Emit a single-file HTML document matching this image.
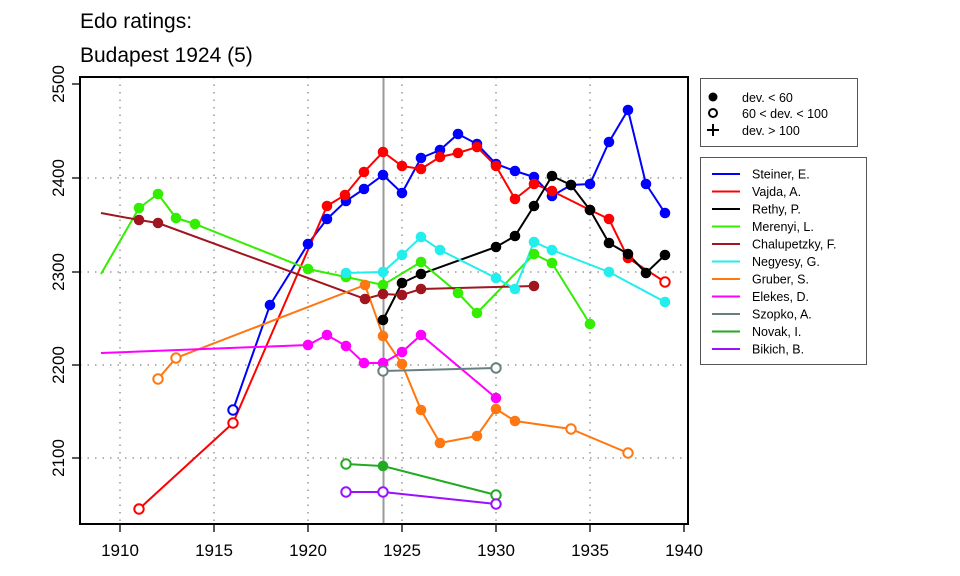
<!DOCTYPE html>
<html><head><meta charset="utf-8"><style>body{margin:0;background:#fff}svg{display:block}text{font-family:"Liberation Sans",sans-serif}</style></head>
<body>
<svg width="960" height="576" xmlns="http://www.w3.org/2000/svg">
<text x="80" y="28" font-size="21">Edo ratings:</text>
<text x="80" y="62" font-size="21">Budapest 1924 (5)</text>
<g stroke="#888" stroke-dasharray="1.5,6" stroke-width="1.3">
<line x1="120" y1="77" x2="120" y2="524"/><line x1="214" y1="77" x2="214" y2="524"/><line x1="308" y1="77" x2="308" y2="524"/><line x1="402" y1="77" x2="402" y2="524"/><line x1="496" y1="77" x2="496" y2="524"/><line x1="590" y1="77" x2="590" y2="524"/>
<line x1="80" y1="178" x2="688" y2="178"/><line x1="80" y1="272" x2="688" y2="272"/><line x1="80" y1="365" x2="688" y2="365"/><line x1="80" y1="458" x2="688" y2="458"/>
</g>
<line x1="383.5" y1="77" x2="383.5" y2="524" stroke="#999" stroke-width="2"/>
<g fill="none" stroke-width="2">
<polyline stroke="#0000ff" points="233,410 270,305 308,244 327,219 346,201 364,189 383,175 402,193 421,158 440,150 458,134 477,144 496,164 515,171 534,177 552,196 571,185 590,184 609,142 628,110 646,184 665,213"/>
<polyline stroke="#ff0000" points="139,509 233,423 327,206 345,195 364,172 383,152 402,166 421,169 440,157 458,153 477,147 496,166 515,199 534,184 552,191 590,210 609,219 628,258 665,282"/>
<polyline stroke="#000" points="383,320 402,283 421,274 496,247 515,236 534,206 552,176 571,185 590,210 609,243 628,254 646,273 665,255"/>
<polyline stroke="#33ee00" points="101,274 139,208 158,194 176,218 195,224 308,269 346,277 383,285 421,262 458,293 477,313 534,254 552,263 590,324"/>
<polyline stroke="#a01620" points="101,213 139,220 158,223 365,299 383,294 402,295 421,289 534,286"/>
<polyline stroke="#22eeee" points="346,273 383,272 402,255 421,237 440,250 496,278 515,289 534,242 552,250 609,272 665,302"/>
<polyline stroke="#ff7711" points="158,379 176,358 365,285 383,336 402,364 421,410 440,443 477,436 496,409 515,421 571,429 628,453"/>
<polyline stroke="#ff00ff" points="101,353 308,345 327,335 346,346 364,363 383,363 402,352 421,335 496,398"/>
<polyline stroke="#668080" points="383,371 496,368"/>
<polyline stroke="#22aa22" points="346,464 383,466 496,495"/>
<polyline stroke="#9911ff" points="346,492 383,492 496,504"/>
</g>
<g stroke="none">
<g fill="#0000ff"><circle cx="270" cy="305" r="5.3"/><circle cx="308" cy="244" r="5.3"/><circle cx="327" cy="219" r="5.3"/><circle cx="346" cy="201" r="5.3"/><circle cx="364" cy="189" r="5.3"/><circle cx="383" cy="175" r="5.3"/><circle cx="402" cy="193" r="5.3"/><circle cx="421" cy="158" r="5.3"/><circle cx="440" cy="150" r="5.3"/><circle cx="458" cy="134" r="5.3"/><circle cx="477" cy="144" r="5.3"/><circle cx="496" cy="164" r="5.3"/><circle cx="515" cy="171" r="5.3"/><circle cx="534" cy="177" r="5.3"/><circle cx="552" cy="196" r="5.3"/><circle cx="571" cy="185" r="5.3"/><circle cx="590" cy="184" r="5.3"/><circle cx="609" cy="142" r="5.3"/><circle cx="628" cy="110" r="5.3"/><circle cx="646" cy="184" r="5.3"/><circle cx="665" cy="213" r="5.3"/></g>
<g fill="#ff0000"><circle cx="327" cy="206" r="5.3"/><circle cx="345" cy="195" r="5.3"/><circle cx="364" cy="172" r="5.3"/><circle cx="383" cy="152" r="5.3"/><circle cx="402" cy="166" r="5.3"/><circle cx="421" cy="169" r="5.3"/><circle cx="440" cy="157" r="5.3"/><circle cx="458" cy="153" r="5.3"/><circle cx="477" cy="147" r="5.3"/><circle cx="496" cy="166" r="5.3"/><circle cx="515" cy="199" r="5.3"/><circle cx="534" cy="184" r="5.3"/><circle cx="552" cy="191" r="5.3"/><circle cx="590" cy="210" r="5.3"/><circle cx="609" cy="219" r="5.3"/><circle cx="628" cy="258" r="5.3"/></g>
<g fill="#000"><circle cx="383" cy="320" r="5.3"/><circle cx="402" cy="283" r="5.3"/><circle cx="421" cy="274" r="5.3"/><circle cx="496" cy="247" r="5.3"/><circle cx="515" cy="236" r="5.3"/><circle cx="534" cy="206" r="5.3"/><circle cx="552" cy="176" r="5.3"/><circle cx="571" cy="185" r="5.3"/><circle cx="590" cy="210" r="5.3"/><circle cx="609" cy="243" r="5.3"/><circle cx="628" cy="254" r="5.3"/><circle cx="646" cy="273" r="5.3"/><circle cx="665" cy="255" r="5.3"/></g>
<g fill="#33ee00"><circle cx="139" cy="208" r="5.3"/><circle cx="158" cy="194" r="5.3"/><circle cx="176" cy="218" r="5.3"/><circle cx="195" cy="224" r="5.3"/><circle cx="308" cy="269" r="5.3"/><circle cx="346" cy="277" r="5.3"/><circle cx="383" cy="285" r="5.3"/><circle cx="421" cy="262" r="5.3"/><circle cx="458" cy="293" r="5.3"/><circle cx="477" cy="313" r="5.3"/><circle cx="534" cy="254" r="5.3"/><circle cx="552" cy="263" r="5.3"/><circle cx="590" cy="324" r="5.3"/></g>
<g fill="#a01620"><circle cx="139" cy="220" r="5.3"/><circle cx="158" cy="223" r="5.3"/><circle cx="365" cy="299" r="5.3"/><circle cx="383" cy="294" r="5.3"/><circle cx="402" cy="295" r="5.3"/><circle cx="421" cy="289" r="5.3"/><circle cx="534" cy="286" r="5.3"/></g>
<g fill="#22eeee"><circle cx="346" cy="273" r="5.3"/><circle cx="383" cy="272" r="5.3"/><circle cx="402" cy="255" r="5.3"/><circle cx="421" cy="237" r="5.3"/><circle cx="440" cy="250" r="5.3"/><circle cx="496" cy="278" r="5.3"/><circle cx="515" cy="289" r="5.3"/><circle cx="534" cy="242" r="5.3"/><circle cx="552" cy="250" r="5.3"/><circle cx="609" cy="272" r="5.3"/><circle cx="665" cy="302" r="5.3"/></g>
<g fill="#ff7711"><circle cx="365" cy="285" r="5.3"/><circle cx="383" cy="336" r="5.3"/><circle cx="402" cy="364" r="5.3"/><circle cx="421" cy="410" r="5.3"/><circle cx="440" cy="443" r="5.3"/><circle cx="477" cy="436" r="5.3"/><circle cx="496" cy="409" r="5.3"/><circle cx="515" cy="421" r="5.3"/></g>
<g fill="#ff00ff"><circle cx="308" cy="345" r="5.3"/><circle cx="327" cy="335" r="5.3"/><circle cx="346" cy="346" r="5.3"/><circle cx="364" cy="363" r="5.3"/><circle cx="383" cy="363" r="5.3"/><circle cx="402" cy="352" r="5.3"/><circle cx="421" cy="335" r="5.3"/><circle cx="496" cy="398" r="5.3"/></g>
<circle cx="383" cy="466" r="5.3" fill="#22aa22"/>
</g>
<g fill="#fff" stroke-width="2">
<circle cx="233" cy="410" r="4.7" stroke="#0000ff"/>
<circle cx="139" cy="509" r="4.7" stroke="#ff0000"/><circle cx="233" cy="423" r="4.7" stroke="#ff0000"/><circle cx="665" cy="282" r="4.7" stroke="#ff0000"/>
<circle cx="158" cy="379" r="4.7" stroke="#ff7711"/><circle cx="176" cy="358" r="4.7" stroke="#ff7711"/><circle cx="571" cy="429" r="4.7" stroke="#ff7711"/><circle cx="628" cy="453" r="4.7" stroke="#ff7711"/>
<circle cx="383" cy="371" r="4.7" stroke="#668080"/><circle cx="496" cy="368" r="4.7" stroke="#668080"/>
<circle cx="346" cy="464" r="4.7" stroke="#22aa22"/><circle cx="496" cy="495" r="4.7" stroke="#22aa22"/>
<circle cx="346" cy="492" r="4.7" stroke="#9911ff"/><circle cx="383" cy="492" r="4.7" stroke="#9911ff"/><circle cx="496" cy="504" r="4.7" stroke="#9911ff"/>
</g>
<rect x="80" y="77" width="608" height="447" fill="none" stroke="#000" stroke-width="2"/>
<g stroke="#000" stroke-width="1.3">
<line x1="120" y1="524" x2="120" y2="532"/><line x1="214" y1="524" x2="214" y2="532"/><line x1="308" y1="524" x2="308" y2="532"/><line x1="402" y1="524" x2="402" y2="532"/><line x1="496" y1="524" x2="496" y2="532"/><line x1="590" y1="524" x2="590" y2="532"/><line x1="684" y1="524" x2="684" y2="532"/>
<line x1="72" y1="84" x2="80" y2="84"/><line x1="72" y1="178" x2="80" y2="178"/><line x1="72" y1="272" x2="80" y2="272"/><line x1="72" y1="365" x2="80" y2="365"/><line x1="72" y1="458" x2="80" y2="458"/>
</g>
<g font-size="17" text-anchor="middle">
<text x="120" y="556">1910</text><text x="214" y="556">1915</text><text x="308" y="556">1920</text><text x="402" y="556">1925</text><text x="496" y="556">1930</text><text x="590" y="556">1935</text><text x="684" y="556">1940</text>
<text transform="translate(64,84) rotate(-90)">2500</text><text transform="translate(64,178) rotate(-90)">2400</text><text transform="translate(64,272) rotate(-90)">2300</text><text transform="translate(64,365) rotate(-90)">2200</text><text transform="translate(64,458) rotate(-90)">2100</text>
</g>
<rect x="700.5" y="78.5" width="157" height="68" fill="#fff" stroke="#555"/>
<circle cx="713" cy="97" r="4.5" fill="#000"/><circle cx="713" cy="113" r="4" fill="none" stroke="#000" stroke-width="2"/>
<path d="M707 130h12M713 124v12" stroke="#000" stroke-width="2"/>
<g font-size="12.5"><text x="742" y="102">dev. &lt; 60</text><text x="742" y="118">60 &lt; dev. &lt; 100</text><text x="742" y="135">dev. &gt; 100</text></g>
<rect x="700.5" y="157.5" width="166" height="207" fill="#fff" stroke="#555"/>
<g stroke-width="2">
<line x1="712" y1="174" x2="740" y2="174" stroke="#0000ff"/><line x1="712" y1="191.5" x2="740" y2="191.5" stroke="#ff0000"/><line x1="712" y1="209" x2="740" y2="209" stroke="#000"/><line x1="712" y1="226.5" x2="740" y2="226.5" stroke="#33ee00"/><line x1="712" y1="244" x2="740" y2="244" stroke="#a01620"/><line x1="712" y1="261.5" x2="740" y2="261.5" stroke="#22eeee"/><line x1="712" y1="279" x2="740" y2="279" stroke="#ff7711"/><line x1="712" y1="296.5" x2="740" y2="296.5" stroke="#ff00ff"/><line x1="712" y1="314" x2="740" y2="314" stroke="#668080"/><line x1="712" y1="331.5" x2="740" y2="331.5" stroke="#22aa22"/><line x1="712" y1="349" x2="740" y2="349" stroke="#9911ff"/>
</g>
<g font-size="12.5">
<text x="752" y="178.5">Steiner, E.</text><text x="752" y="196">Vajda, A.</text><text x="752" y="213.5">Rethy, P.</text><text x="752" y="231">Merenyi, L.</text><text x="752" y="248.5">Chalupetzky, F.</text><text x="752" y="266">Negyesy, G.</text><text x="752" y="283.5">Gruber, S.</text><text x="752" y="301">Elekes, D.</text><text x="752" y="318.5">Szopko, A.</text><text x="752" y="336">Novak, I.</text><text x="752" y="353.5">Bikich, B.</text>
</g>
</svg>
</body></html>
